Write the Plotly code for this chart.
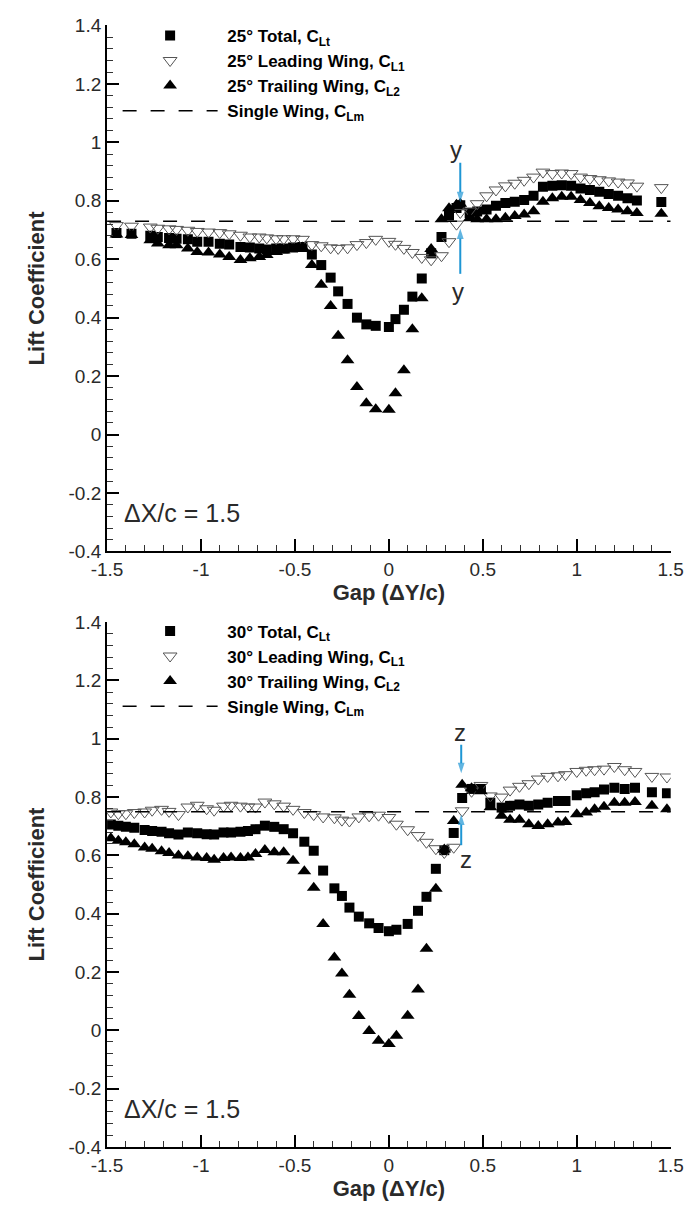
import plotly.graph_objects as go

# ---------------- data: top panel (25 deg) ----------------
T_X = [-1.45, -1.37, -1.27, -1.23, -1.17, -1.13, -1.07, -1.02, -0.96, -0.90,
       -0.85, -0.79, -0.74, -0.69, -0.65, -0.60, -0.56, -0.51, -0.46, -0.41,
       -0.36, -0.31, -0.27, -0.22, -0.17, -0.12, -0.07, 0.00, 0.035, 0.08,
       0.125, 0.175, 0.225, 0.28, 0.32, 0.36, 0.38, 0.43, 0.47, 0.52,
       0.57, 0.62, 0.67, 0.72, 0.77, 0.82, 0.87, 0.92, 0.97, 1.02,
       1.07, 1.12, 1.17, 1.22, 1.27, 1.32, 1.45]
T_TOTAL = [0.69, 0.687, 0.68, 0.676, 0.673, 0.67, 0.668, 0.66, 0.66, 0.653,
           0.65, 0.642, 0.64, 0.637, 0.633, 0.637, 0.637, 0.64, 0.642, 0.616,
           0.58, 0.537, 0.49, 0.447, 0.40, 0.377, 0.372, 0.368, 0.395, 0.427,
           0.472, 0.534, 0.62, 0.676, 0.75, 0.775, 0.785, 0.758, 0.763, 0.77,
           0.783, 0.792, 0.797, 0.803, 0.817, 0.848, 0.851, 0.853, 0.851, 0.842,
           0.837, 0.831, 0.823, 0.817, 0.809, 0.801, 0.796]
T_LEAD = [0.715, 0.713, 0.71, 0.706, 0.704, 0.702, 0.699, 0.695, 0.693, 0.691,
          0.687, 0.682, 0.676, 0.676, 0.673, 0.67, 0.67, 0.67, 0.668, 0.65,
          0.646, 0.639, 0.637, 0.639, 0.65, 0.657, 0.668, 0.661, 0.651, 0.637,
          0.623, 0.606, 0.598, 0.612, 0.66, 0.72, 0.76, 0.765, 0.79, 0.817,
          0.837, 0.851, 0.86, 0.87, 0.881, 0.898, 0.893, 0.895, 0.893, 0.881,
          0.876, 0.872, 0.868, 0.864, 0.861, 0.85, 0.845]
T_TRAIL = [0.685, 0.683, 0.665, 0.654, 0.648, 0.648, 0.637, 0.625, 0.623, 0.616,
           0.608, 0.597, 0.603, 0.608, 0.614, 0.625, 0.63, 0.635, 0.64, 0.58,
           0.513, 0.44, 0.338, 0.254, 0.163, 0.107, 0.087, 0.085, 0.141, 0.22,
           0.36, 0.466, 0.635, 0.737, 0.774, 0.786, 0.79, 0.74, 0.737, 0.737,
           0.737, 0.742, 0.748, 0.753, 0.764, 0.797, 0.809, 0.814, 0.814, 0.803,
           0.792, 0.781, 0.775, 0.77, 0.764, 0.758, 0.756]
T_SINGLE = 0.73

# ---------------- data: bottom panel (30 deg) ----------------
B_X = [-1.48, -1.44, -1.40, -1.355, -1.30, -1.26, -1.21, -1.17, -1.12, -1.07,
       -1.02, -0.97, -0.93, -0.88, -0.84, -0.79, -0.75, -0.71, -0.66, -0.61,
       -0.56, -0.51, -0.45, -0.40, -0.35, -0.29, -0.25, -0.21, -0.16, -0.105,
       -0.055, 0.0, 0.04, 0.1, 0.155, 0.2, 0.25, 0.295, 0.345, 0.39,
       0.44, 0.49, 0.54, 0.6, 0.645, 0.695, 0.745, 0.795, 0.845, 0.9,
       0.94, 1.0, 1.05, 1.095, 1.145, 1.2, 1.255, 1.31, 1.4, 1.48]
B_TOTAL = [0.706, 0.702, 0.698, 0.695, 0.687, 0.684, 0.681, 0.676, 0.672, 0.679,
           0.676, 0.673, 0.672, 0.679, 0.679, 0.681, 0.684, 0.69, 0.702, 0.698,
           0.69, 0.676, 0.647, 0.616, 0.548, 0.487, 0.461, 0.421, 0.39, 0.367,
           0.351, 0.34, 0.345, 0.365, 0.41, 0.458, 0.554, 0.618, 0.677, 0.797,
           0.828, 0.828, 0.781, 0.764, 0.77, 0.775, 0.77, 0.775, 0.781, 0.787,
           0.787, 0.806, 0.813, 0.817, 0.826, 0.832, 0.828, 0.832, 0.817, 0.813]
B_LEAD = [0.749, 0.743, 0.743, 0.747, 0.749, 0.755, 0.758, 0.751, 0.74, 0.766,
          0.772, 0.76, 0.755, 0.769, 0.772, 0.769, 0.766, 0.766, 0.783, 0.777,
          0.769, 0.758, 0.747, 0.74, 0.732, 0.729, 0.721, 0.718, 0.732, 0.736,
          0.738, 0.73, 0.707, 0.688, 0.668, 0.645, 0.623, 0.61, 0.628, 0.753,
          0.82, 0.84, 0.804, 0.8, 0.824, 0.837, 0.846, 0.862, 0.871, 0.873,
          0.877, 0.888, 0.892, 0.894, 0.896, 0.905, 0.894, 0.888, 0.871, 0.869]
B_TRAIL = [0.659, 0.65, 0.645, 0.638, 0.627, 0.623, 0.614, 0.608, 0.6, 0.597,
           0.593, 0.591, 0.585, 0.591, 0.593, 0.591, 0.593, 0.605, 0.619, 0.611,
           0.611, 0.582, 0.546, 0.489, 0.365, 0.25, 0.195, 0.122, 0.049, -0.002,
           -0.036, -0.047, -0.019, 0.05, 0.14, 0.28, 0.486, 0.62, 0.718, 0.842,
           0.83, 0.82, 0.765, 0.736, 0.722, 0.722, 0.707, 0.701, 0.707, 0.713,
           0.715, 0.741, 0.747, 0.758, 0.767, 0.781, 0.781, 0.783, 0.77, 0.758]
B_SINGLE = 0.75

# marker arrows (position, tail, head) for the "y" and "z" gap labels
T_ARROW_X = 0.38
T_ARROWS = [(0.93, 0.795), (0.55, 0.705)]
B_ARROW_X = 0.385
B_ARROWS = [(0.98, 0.882), (0.635, 0.74)]

X_RANGE = [-1.5, 1.5]
Y_RANGE = [-0.4, 1.4]
X_TICKS = [-1.5, -1, -0.5, 0, 0.5, 1, 1.5]
X_TICKTEXT = ["-1.5", "-1", "-0.5", "0", "0.5", "1", "1.5"]
Y_TICKS = [-0.4, -0.2, 0, 0.2, 0.4, 0.6, 0.8, 1, 1.2, 1.4]
Y_TICKTEXT = ["-0.4", "-0.2", "0", "0.2", "0.4", "0.6", "0.8", "1", "1.2", "1.4"]

FONT = "Liberation Sans, Arial, sans-serif"
BLUE = "#1e96d4"
TXT = "#2a2a2a"
NB = "\u00a0"

fig = go.Figure()

panels = [
    dict(ang="25", xs=T_X, tot=T_TOTAL, lead=T_LEAD, trail=T_TRAIL, single=T_SINGLE,
         xa="x", ya="y", leg="legend", ax_x=T_ARROW_X, arrows=T_ARROWS),
    dict(ang="30", xs=B_X, tot=B_TOTAL, lead=B_LEAD, trail=B_TRAIL, single=B_SINGLE,
         xa="x2", ya="y2", leg="legend2", ax_x=B_ARROW_X, arrows=B_ARROWS),
]

for p in panels:
    fig.add_trace(go.Scatter(
        x=p["xs"], y=p["tot"], mode="markers", xaxis=p["xa"], yaxis=p["ya"],
        name=NB + p["ang"] + "° Total, C<sub>Lt</sub>", legend=p["leg"],
        marker=dict(symbol="square", size=10, color="black", line=dict(width=0))))
    fig.add_trace(go.Scatter(
        x=p["xs"], y=p["lead"], mode="markers", xaxis=p["xa"], yaxis=p["ya"],
        name=NB + p["ang"] + "° Leading Wing, C<sub>L1</sub>", legend=p["leg"],
        marker=dict(symbol="triangle-down-open", size=12, color="#555555",
                    line=dict(width=1, color="#555555"))))
    fig.add_trace(go.Scatter(
        x=p["xs"], y=p["trail"], mode="markers", xaxis=p["xa"], yaxis=p["ya"],
        name=NB + p["ang"] + "° Trailing Wing, C<sub>L2</sub>", legend=p["leg"],
        marker=dict(symbol="triangle-up", size=12, color="black", line=dict(width=0))))
    fig.add_trace(go.Scatter(
        x=X_RANGE, y=[p["single"], p["single"]], mode="lines", xaxis=p["xa"], yaxis=p["ya"],
        name=NB + "Single Wing, C<sub>Lm</sub>", legend=p["leg"],
        line=dict(color="black", width=1.5, dash="14px,14px")))
    for tail, head in p["arrows"]:
        fig.add_trace(go.Scatter(
            x=[p["ax_x"], p["ax_x"]], y=[tail, head], mode="lines+markers",
            xaxis=p["xa"], yaxis=p["ya"], showlegend=False, hoverinfo="skip",
            line=dict(color=BLUE, width=2),
            marker=dict(symbol="arrow", angleref="previous", size=[0, 11], color=BLUE,
                        line=dict(width=0))))

xd = [95 / 700, 683 / 700]
top_dom = [1 - 551 / 1211, 1 - 15.7 / 1211]
bot_dom = [1 - 1157 / 1211, 1 - 623 / 1211]

def xaxis_cfg(dom, anchor):
    return dict(
        domain=dom, anchor=anchor, range=X_RANGE, tickvals=X_TICKS, ticktext=X_TICKTEXT,
        showline=True, linecolor="black", linewidth=2, showgrid=False, zeroline=False,
        ticks="inside", ticklen=12, tickwidth=2, tickcolor="black",
        minor=dict(dtick=0.1, tick0=0, ticks="inside", ticklen=6, tickwidth=1, tickcolor="#333"),
        tickfont=dict(family=FONT, size=19, color=TXT),
        title=dict(text="Gap (ΔY/c)", font=dict(family=FONT, size=22, color=TXT, weight="bold"),
                   standoff=1),
    )

def yaxis_cfg(dom, anchor):
    return dict(
        domain=dom, anchor=anchor, range=Y_RANGE, tickvals=Y_TICKS, ticktext=Y_TICKTEXT,
        showline=True, linecolor="black", linewidth=2, showgrid=False, zeroline=False,
        ticks="inside", ticklen=12, tickwidth=2, tickcolor="black",
        minor=dict(dtick=0.04, tick0=0, ticks="inside", ticklen=6, tickwidth=1, tickcolor="#333"),
        tickfont=dict(family=FONT, size=19, color=TXT),
        title=dict(text="Lift Coefficient", font=dict(family=FONT, size=22, color=TXT, weight="bold"),
                   standoff=18),
    )

legend_common = dict(
    bgcolor="rgba(0,0,0,0)", borderwidth=0, itemwidth=95,
    font=dict(family=FONT, size=17, color="black", weight="bold"),
    xanchor="left", yanchor="top", tracegroupgap=0, itemclick=False,
)

fig.update_layout(
    width=700, height=1211, margin=dict(l=0, r=0, t=0, b=0),
    paper_bgcolor="white", plot_bgcolor="white",
    xaxis=xaxis_cfg(xd, "y"), yaxis=yaxis_cfg(top_dom, "x"),
    xaxis2=xaxis_cfg(xd, "y2"), yaxis2=yaxis_cfg(bot_dom, "x2"),
    legend=dict(x=106 / 700, y=1 - 8 / 1211, **legend_common),
    legend2=dict(x=106 / 700, y=1 - 614 / 1211, **legend_common),
    showlegend=True,
)

ann = []
for xa, ya in (("x", "y"), ("x2", "y2")):
    ann.append(dict(x=-1.42, y=-0.27, xref=xa, yref=ya, text="ΔX/c = 1.5", showarrow=False,
                    xanchor="left", yanchor="middle",
                    font=dict(family=FONT, size=25, color=TXT)))

ann += [
    dict(x=0.355, y=0.975, xref="x", yref="y", text="y", showarrow=False,
         font=dict(family=FONT, size=24, color=TXT)),
    dict(x=0.37, y=0.49, xref="x", yref="y", text="y", showarrow=False,
         font=dict(family=FONT, size=24, color=TXT)),
    dict(x=0.38, y=1.02, xref="x2", yref="y2", text="z", showarrow=False,
         font=dict(family=FONT, size=24, color=TXT)),
    dict(x=0.41, y=0.585, xref="x2", yref="y2", text="z", showarrow=False,
         font=dict(family=FONT, size=24, color=TXT)),
]
fig.update_layout(annotations=ann)

fig.write_html("out.html")
